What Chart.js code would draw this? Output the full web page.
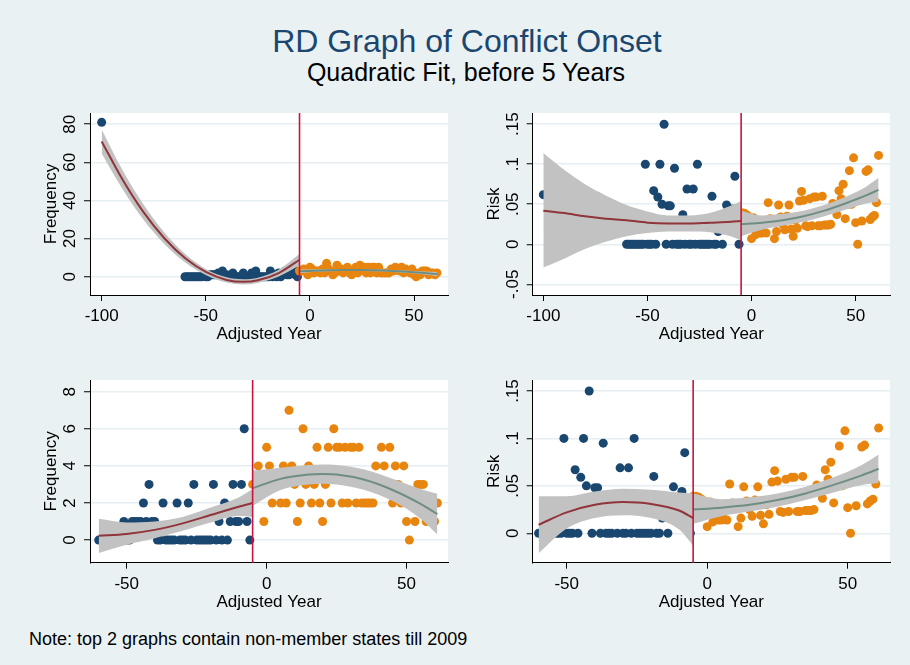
<!DOCTYPE html>
<html>
<head>
<meta charset="utf-8">
<script src="https://cdn.jsdelivr.net/npm/chart.js@4.4.1/dist/chart.umd.min.js"></script>
<style>
  html, body { margin: 0; padding: 0; }
  body {
    width: 910px; height: 665px; position: relative; overflow: hidden;
    background: #eaf1f3;
    font-family: "Liberation Sans", Arial, sans-serif;
  }
  .txt { position: absolute; white-space: nowrap; line-height: 1; }
  #title { top: 25px; left: 467px; transform: translateX(-50%); font-size: 32px; color: #1a476f; }
  #subtitle { top: 60px; left: 466px; transform: translateX(-50%); font-size: 25px; color: #000; }
  #note { top: 630px; left: 29px; font-size: 18px; color: #000; }
  canvas { position: absolute; }
</style>
</head>
<body>
<div id="title" class="txt">RD Graph of Conflict Onset</div>
<div id="subtitle" class="txt">Quadratic Fit, before 5 Years</div>
<div id="note" class="txt">Note: top 2 graphs contain non-member states till 2009</div>

<canvas id="freqTop" width="460" height="255" style="left:0;top:100px"></canvas>
<canvas id="riskTop" width="455" height="255" style="left:455px;top:100px"></canvas>
<canvas id="freqBottom" width="460" height="250" style="left:0;top:367px"></canvas>
<canvas id="riskBottom" width="455" height="250" style="left:455px;top:367px"></canvas>

<script>
// ---------- DATA ----------
const cutoff = -5;

// the one early observation only present in the top graphs
const outlierYear = -100;
const outlierFreq = 81;
const outlierRisk = 0.062;

const yearsBefore = [-60,-59,-58,-57,-56,-55,-54,-53,-52,-51,-50,-49,-48,-47,-46,-45,-44,-43,-42,-41,
  -40,-39,-38,-37,-36,-35,-34,-33,-32,-31,-30,-29,-28,-27,-26,-25,-24,-23,-22,-21,
  -20,-19,-18,-17,-16,-15,-14,-13,-12,-11,-10,-9,-8,-7,-6];
const yearsAfter = [-5,-4,-3,-2,-1,0,1,2,3,4,5,6,7,8,9,10,11,12,13,14,15,16,17,18,19,20,
  21,22,23,24,25,26,27,28,29,30,31,32,33,34,35,36,37,38,39,40,41,42,43,44,45,46,47,48,
  49,50,51,52,53,54,55,56,57,58,59,60,61];

const freqBefore = [0,0,0,0,0,0,0,0,0,1, 0,0,1,1,1,1,2,1,3,1, 1,0,0,2,0,0,0,0,2,0,
  0,0,2,0,3,0,0,0,0,0, 0,3,0,1,0,2,0,1,3,1, 1,3,6,1,0];
const freqAfter = [3,3,4,3,1,5,4,2,3,3, 2,4,2,7,4,3,1,2,6,3, 4,2,3,5,2,1,3,5,2,6,
  5,5,2,5,2,5,5,2,5,2, 2,2,2,2,4,3,5,4,3,5, 2,4,3,2,4,1,0,2,1,3, 3,3,1,2,2,1,2];

const riskBefore = [0,0,0,0,0,0,0,0,0,0.100, 0,0,0,0.067,0,0.059,0.100,0.050,0.150,0,
  0.048,0.048,0,0.095,0,0,0,0.037,0,0.069, 0,0,0.069,0,0.100,0,0,0,0,0,
  0,0.060,0,0,0.016,0.030,0,0.025,0.049,0.030, 0.035,0.044,0.085,0.030,0];
const riskAfter = [0.039,0.039,0.038,0.036,0.030,0.007,0.033,0.012,0.030,0.014,
  0.014,0.015,0.014,0.052,0.032,0.030,0.007,0.016,0.049,0.034,
  0.025,0.018,0.035,0.049,0.019,0.010,0.030,0.020,0.054,0.066,
  0.055,0.023,0.022,0.057,0.023,0.059,0.059,0.023,0.023,0.060,
  0.024,0.024,0.024,0.025,0.051,0.045,0.037,0.067,0.057,0.075,
  0.032,0.050,0.092,0.050,0.108,0.027,0,0.055,0.029,0.062,
  0.091,0.093,0.031,0.034,0.036,0.052,0.111];

// quadratic fits with 95% CI, before the cutoff (with the -100 observation)
const fitFreqAllX  = [-100, -90, -80, -70, -60, -50, -40, -32, -25, -15, -5];
const fitFreqAll   = [71, 51, 34, 20.3, 9.8, 2.5, -1.7, -2.7, -1.9, 1.9, 8.9];
const fitFreqAllHi = [77.3, 56, 38, 23.3, 12, 4.1, -0.3, -1.3, -0.5, 3.7, 11.9];
const fitFreqAllLo = [64.7, 46, 30, 17.3, 7.6, 0.9, -3.1, -4.1, -3.3, 0.1, 5.9];

const fitRiskAllX  = [-100, -90, -80, -70, -60, -50, -40, -30, -20, -10, -5];
const fitRiskAll   = [0.042, 0.039, 0.035, 0.032, 0.030, 0.027, 0.026, 0.026, 0.027, 0.028, 0.029];
const fitRiskAllHi = [0.114, 0.093, 0.075, 0.061, 0.049, 0.041, 0.036, 0.036, 0.039, 0.048, 0.054];
const fitRiskAllLo = [-0.029, -0.018, -0.006, 0.003, 0.010, 0.014, 0.016, 0.016, 0.015, 0.010, 0.005];

// before the cutoff, members only
const fitLeftX     = [-60, -50, -40, -30, -20, -10, -5];
const fitFreqLeft   = [0.23, 0.33, 0.55, 0.9, 1.35, 1.8, 2.0];
const fitFreqLeftHi = [1.15, 0.95, 1.0, 1.25, 1.75, 2.3, 2.75];
const fitFreqLeftLo = [-0.7, -0.25, 0.1, 0.5, 0.95, 1.3, 1.25];
const fitRiskLeft   = [0.009, 0.022, 0.030, 0.033, 0.031, 0.024, 0.016];
const fitRiskLeftHi = [0.039, 0.039, 0.044, 0.047, 0.046, 0.043, 0.042];
const fitRiskLeftLo = [-0.021, 0.005, 0.016, 0.019, 0.016, 0.004, -0.013];

// after the cutoff
const fitFreqRightX  = [-5, 5, 15, 20, 25, 35, 45, 55, 61];
const fitFreqRight   = [2.8, 3.3, 3.53, 3.56, 3.53, 3.25, 2.7, 1.95, 1.4];
const fitFreqRightHi = [3.75, 3.9, 4.05, 4.08, 4.05, 3.8, 3.3, 2.75, 2.5];
const fitFreqRightLo = [1.85, 2.7, 3.0, 3.04, 3.0, 2.7, 2.1, 1.15, 0.3];

const fitRiskRightX  = [-5, 5, 15, 25, 35, 45, 55, 61];
const fitRiskRight   = [0.025, 0.027, 0.030, 0.035, 0.042, 0.051, 0.061, 0.068];
const fitRiskRightHi = [0.042, 0.036, 0.038, 0.042, 0.049, 0.059, 0.072, 0.083];
const fitRiskRightLo = [0.010, 0.018, 0.023, 0.028, 0.035, 0.043, 0.051, 0.053];

// axis ticks
const yearTicksTop = [-100, -50, 0, 50];
const yearTicksBottom = [-50, 0, 50];
const freqTicksTop = [0, 20, 40, 60, 80];
const freqTicksBottom = [0, 2, 4, 6, 8];
const riskTicksTop = [-0.05, 0, 0.05, 0.1, 0.15];
const riskTicksBottom = [0, 0.05, 0.1, 0.15];

// ---------- STYLE ----------
const navy = '#1a476f';
const orange = '#e8850e';
const maroon = '#90353b';
const teal = '#6e8e84';
const ciGray = '#c2c2c2';
const cutColor = '#c9143c';
const gridColor = '#e6eef1';
const FONT = '"Liberation Sans", Arial, sans-serif';

Chart.defaults.font.family = FONT;

const pts = (xs, ys) => xs.map((x, i) => ({ x: x, y: ys[i] }));

// Stata-like labels: .05 instead of 0.05
const stataNum = v => v === 0 ? '0' : String(+v.toFixed(4)).replace('0.', '.');

function dots(xs, ys, color, order) {
  return { data: pts(xs, ys), backgroundColor: color, pointRadius: 4.5, pointBorderWidth: 0,
           pointHoverRadius: 4.5, order: order };
}
function curve(xs, ys, color, order) {
  return { data: pts(xs, ys), showLine: true, borderColor: color, borderWidth: 2, pointRadius: 0,
           cubicInterpolationMode: 'monotone', fill: false, order: order };
}
function bandEdge(xs, ys, order, fillNext) {
  return { data: pts(xs, ys), showLine: true, borderColor: 'transparent', borderWidth: 0, pointRadius: 0,
           cubicInterpolationMode: 'monotone', fill: fillNext ? '+1' : false,
           backgroundColor: ciGray, order: order };
}

// white plot region, cutoff line and the rotated y labels / axis titles
function decor(yTitle, yTicks) {
  return {
    id: 'decor',
    beforeDraw(chart) {
      const { ctx, chartArea: a } = chart;
      ctx.save();
      ctx.fillStyle = '#fff';
      ctx.fillRect(a.left, a.top, a.right - a.left, a.bottom - a.top);
      ctx.restore();
    },
    afterDatasetsDraw(chart) {
      const { ctx, chartArea: a, scales: { x } } = chart;
      const cx = x.getPixelForValue(cutoff);
      ctx.save();
      ctx.strokeStyle = cutColor;
      ctx.lineWidth = 1.6;
      ctx.beginPath();
      ctx.moveTo(cx, a.top);
      ctx.lineTo(cx, a.bottom);
      ctx.stroke();
      ctx.restore();
    },
    afterDraw(chart) {
      const { ctx, chartArea: a, scales: { y } } = chart;
      ctx.save();
      ctx.fillStyle = '#000';
      ctx.textAlign = 'center';
      ctx.textBaseline = 'alphabetic';
      ctx.font = '17px ' + FONT;
      yTicks.forEach(v => {
        ctx.save();
        ctx.translate(a.left - 15, y.getPixelForValue(v));
        ctx.rotate(-Math.PI / 2);
        ctx.fillText(stataNum(v), 0, 0);
        ctx.restore();
      });
      ctx.save();
      ctx.translate(a.left - 34, (a.top + a.bottom) / 2);
      ctx.rotate(-Math.PI / 2);
      ctx.fillText(yTitle, 0, 0);
      ctx.restore();
      ctx.fillText('Adjusted Year', (a.left + a.right) / 2, a.bottom + 44);
      ctx.restore();
    }
  };
}

function panel(id, o) {
  const datasets = [
    dots(o.blueX, o.blueY, navy, 7),
    dots(yearsAfter, o.orangeY, orange, 6),
    bandEdge(o.leftX, o.leftHi, 5, true),
    bandEdge(o.leftX, o.leftLo, 5, false),
    bandEdge(o.rightX, o.rightHi, 4, true),
    bandEdge(o.rightX, o.rightLo, 4, false),
    curve(o.leftX, o.leftFit, maroon, 2),
    curve(o.rightX, o.rightFit, teal, 1)
  ];
  return new Chart(document.getElementById(id), {
    type: 'scatter',
    data: { datasets: datasets },
    plugins: [decor(o.yTitle, o.yTicks)],
    options: {
      responsive: false,
      animation: false,
      devicePixelRatio: 1,
      events: [],
      layout: { padding: { top: 13, right: o.padRight, left: 0, bottom: 0 } },
      plugins: { legend: { display: false }, tooltip: { enabled: false } },
      scales: {
        x: {
          type: 'linear', min: o.xMin, max: o.xMax,
          afterBuildTicks: s => { s.ticks = o.xTicks.map(v => ({ value: v })); },
          afterFit: s => { s.height = o.xHeight; },
          grid: { drawOnChartArea: false, drawTicks: true, tickLength: 6, tickColor: '#000', tickWidth: 1 },
          border: { display: true, color: '#000', width: 1 },
          ticks: { color: '#000', font: { size: 17 }, padding: 5, maxRotation: 0, autoSkip: false,
                   callback: v => String(v) }
        },
        y: {
          type: 'linear', min: o.yMin, max: o.yMax,
          afterBuildTicks: s => { s.ticks = o.yTicks.map(v => ({ value: v })); },
          afterFit: s => { s.width = o.yWidth; },
          grid: { color: gridColor, lineWidth: 1.5, drawTicks: true, tickLength: 6, tickColor: '#000', tickWidth: 1 },
          border: { display: true, color: '#000', width: 1 },
          ticks: { display: false }
        }
      }
    }
  });
}

// ---------- PANELS ----------
panel('freqTop', {
  blueX: [outlierYear].concat(yearsBefore), blueY: [outlierFreq].concat(freqBefore),
  orangeY: freqAfter,
  leftX: fitFreqAllX, leftFit: fitFreqAll, leftHi: fitFreqAllHi, leftLo: fitFreqAllLo,
  rightX: fitFreqRightX, rightFit: fitFreqRight, rightHi: fitFreqRightHi, rightLo: fitFreqRightLo,
  xMin: -105.6, xMax: 66.3, yMin: -9.6, yMax: 85.9,
  xTicks: yearTicksTop, yTicks: freqTicksTop, yTitle: 'Frequency',
  yWidth: 90, padRight: 12, xHeight: 60
});

panel('riskTop', {
  blueX: [outlierYear].concat(yearsBefore), blueY: [outlierRisk].concat(riskBefore),
  orangeY: riskAfter,
  leftX: fitRiskAllX, leftFit: fitRiskAll, leftHi: fitRiskAllHi, leftLo: fitRiskAllLo,
  rightX: fitRiskRightX, rightFit: fitRiskRight, rightHi: fitRiskRightHi, rightLo: fitRiskRightLo,
  xMin: -105.1, xMax: 66.5, yMin: -0.0634, yMax: 0.164,
  xTicks: yearTicksTop, yTicks: riskTicksTop, yTitle: 'Risk',
  yWidth: 77.7, padRight: 20, xHeight: 60
});

panel('freqBottom', {
  blueX: yearsBefore, blueY: freqBefore,
  orangeY: freqAfter,
  leftX: fitLeftX, leftFit: fitFreqLeft, leftHi: fitFreqLeftHi, leftLo: fitFreqLeftLo,
  rightX: fitFreqRightX, rightFit: fitFreqRight, rightHi: fitFreqRightHi, rightLo: fitFreqRightLo,
  xMin: -63.1, xMax: 64.8, yMin: -1.22, yMax: 8.63,
  xTicks: yearTicksBottom, yTicks: freqTicksBottom, yTitle: 'Frequency',
  yWidth: 90, padRight: 12, xHeight: 54.3
});

panel('riskBottom', {
  blueX: yearsBefore, blueY: riskBefore,
  orangeY: riskAfter,
  leftX: fitLeftX, leftFit: fitRiskLeft, leftHi: fitRiskLeftHi, leftLo: fitRiskLeftLo,
  rightX: fitRiskRightX, rightFit: fitRiskRight, rightHi: fitRiskRightHi, rightLo: fitRiskRightLo,
  xMin: -62.1, xMax: 65.05, yMin: -0.031, yMax: 0.1616,
  xTicks: yearTicksBottom, yTicks: riskTicksBottom, yTitle: 'Risk',
  yWidth: 77.7, padRight: 20, xHeight: 54.3
});
</script>
</body>
</html>
